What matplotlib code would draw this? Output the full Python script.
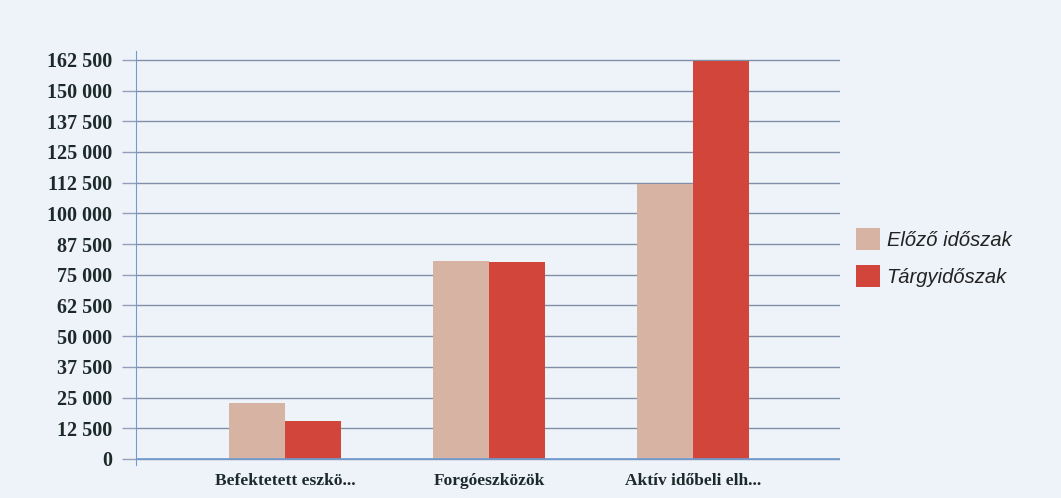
import numpy as np
import matplotlib.pyplot as plt

# Data
categories = ["Befektetett eszkö...", "Forgóeszközök", "Aktív időbeli elh..."]
elozo = [22800, 80500, 112000]
targy = [15500, 80300, 162000]
series_names = ["Előző időszak", "Tárgyidőszak"]
yticks = np.arange(0, 162501, 12500)
ytick_labels = [f"{v:,}".replace(",", " ") for v in yticks]

bg = "#eef3f9"
fig = plt.figure(figsize=(10.61, 4.98), dpi=100, facecolor=bg)
ax = fig.add_axes([0.128, 0.066, 0.664, 0.831])
ax.set_facecolor(bg)

x = np.arange(len(categories))
w = 0.275
ax.bar(x - w / 2, elozo, w, color="#d6b3a2", label=series_names[0])
ax.bar(x + w / 2, targy, w, color="#d2453a", label=series_names[1])

ax.set_xlim(-0.73, 2.72)
ax.set_ylim(-2500, 166000)
ax.set_yticks(yticks)
ax.set_yticklabels(ytick_labels, fontfamily="Liberation Serif",
                   fontweight="bold", fontsize=14.5, color="#1d2a2a")
ax.set_xticks(x)
ax.set_xticklabels(categories, fontfamily="Liberation Serif",
                   fontweight="bold", fontsize=12.5, color="#1d2a2a")
ax.tick_params(axis="y", length=10, width=1, color="#8fa0b8", pad=7)
ax.tick_params(axis="x", length=0, pad=6)

ax.yaxis.grid(True, color="#7f8fa8", linewidth=1)
ax.set_axisbelow(True)
for s in ["top", "right", "bottom"]:
    ax.spines[s].set_visible(False)
ax.spines["left"].set_color("#6f9bd0")
ax.axhline(0, color="#6f9bd0", linewidth=1.2, zorder=1)

leg = fig.legend(loc="upper left", bbox_to_anchor=(0.79, 0.578), frameon=False,
                 prop={"family": "Liberation Sans", "style": "italic", "size": 14.5},
                 handlelength=1.2, handleheight=1.25, handletextpad=0.3, labelspacing=0.78)
for t in leg.get_texts():
    t.set_color("#222222")

fig.savefig("out.png", dpi=100, facecolor=bg)
